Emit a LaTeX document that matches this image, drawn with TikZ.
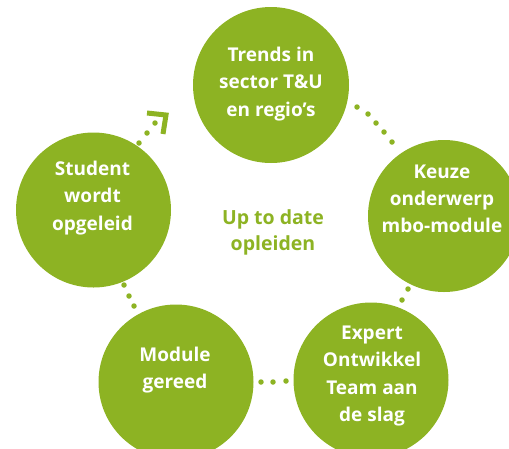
\documentclass[tikz,border=0pt]{standalone}
\usepackage{fontspec}
\setmainfont{Open Sans}
\definecolor{lime}{RGB}{141,179,35}
\begin{document}
\begin{tikzpicture}[x=1pt,y=-1pt,
  circ/.style={circle,fill=lime,minimum size=#1,inner sep=0pt},
  txt/.style={text=white,align=center,inner sep=0pt,font=\bfseries\fontsize{19}{27.3}\selectfont},
  dot/.style={circle,fill=lime,inner sep=0pt,minimum size=5.5pt}]
\useasboundingbox (0,0) rectangle (509,448);
\clip (0,0) rectangle (509,448);
\node[circ=156pt] (trends) at (271,85) {};
\node[circ=152pt] (keuze) at (444,216) {};
\node[circ=155pt] (expert) at (371,380) {};
\node[circ=155pt] (module) at (176,382) {};
\node[circ=155pt] (student) at (93.5,210) {};
\node[txt] (ttrends) at (271,84) {Trends in\\sector T\&U\\en regio’s};
\node[txt] (tkeuze) at (442,199) {Keuze\\onderwerp\\mbo-module};
\node[txt] (texpert) at (372,376) {Expert\\Ontwikkel\\Team aan\\de slag};
\node[txt] (tmodule) at (175,370) {Module\\gereed};
\node[txt] (tstudent) at (92.5,198) {Student\\wordt\\opgeleid};
\node[text=lime,align=center,inner sep=0pt,font=\bfseries\fontsize{19.5}{26}\selectfont] (mid) at (273,232) {Up to date\\opleiden};
\foreach \p in {(357,107),(368,114),(376,123),(384,132),(392,142),(412,277),(408,289),(402,300),(261,382),(273,382),(286,381),(124,285),(129,296),(134,306),(139,143),(147,133),(155,123)}
  \node[dot] at \p {};
\coordinate (a1) at (147,113);
\coordinate (a2) at (166,115);
\coordinate (a3) at (163,134);
\draw[lime,line width=5pt] (a1) -- (a2) -- (a3);
\end{tikzpicture}
\end{document}
